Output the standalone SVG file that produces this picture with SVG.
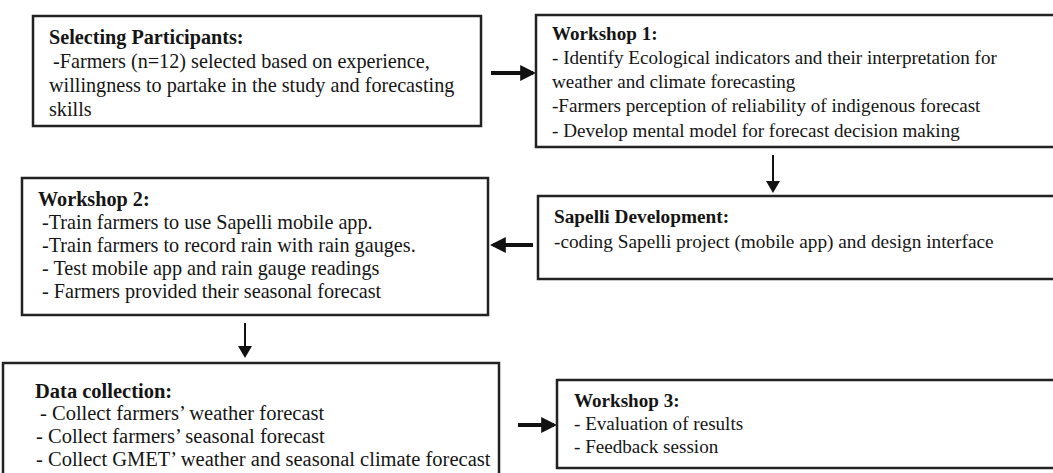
<svg xmlns="http://www.w3.org/2000/svg" width="1053" height="473" viewBox="0 0 1053 473">
<defs>
<marker id="ah" markerWidth="4" markerHeight="4" refX="3.2" refY="2" orient="auto" markerUnits="strokeWidth">
<path d="M0,0 L4,2 L0,4 Z" fill="#111"/>
</marker>
<marker id="ahs" markerWidth="6" markerHeight="7" refX="5" refY="3.5" orient="auto" markerUnits="strokeWidth">
<path d="M0,0 L6,3.5 L0,7 Z" fill="#111"/>
</marker>
<style>
.box{fill:#fff;stroke:#222;stroke-width:2.5}
.t{font-family:"Liberation Serif","Times New Roman",serif;font-size:18px;fill:#151515}
.b{font-weight:bold}
.s20{font-size:20.2px}
.s19{font-size:19.1px}
.s193{font-size:19.3px}
.s205{font-size:20.5px}
.thick{stroke:#111;stroke-width:4;fill:none;marker-end:url(#ah)}
.thin{stroke:#111;stroke-width:2;fill:none;marker-end:url(#ahs)}
</style>
</defs>
<rect width="1053" height="473" fill="#fff"/>
<g id="connectors">
<line class="thick" x1="491" y1="73" x2="533" y2="73"/>
<line class="thin" x1="773" y1="155" x2="773" y2="191"/>
<line class="thick" x1="533" y1="245" x2="493" y2="245"/>
<line class="thin" x1="245" y1="323" x2="245" y2="356"/>
<line class="thick" x1="518" y1="425" x2="554" y2="425"/>
</g>
<g id="selecting">
<rect class="box" x="33" y="16" width="448" height="110"/>
<text class="t s20 b" x="49" y="44">Selecting Participants:</text>
<text class="t s20" x="53" y="68">-Farmers (n=12) selected based on experience,</text>
<text class="t s20" x="49" y="92">willingness to partake in the study and forecasting</text>
<text class="t s20" x="49" y="116">skills</text>
</g>
<g id="workshop1">
<rect class="box" x="536" y="15" width="530" height="132"/>
<text class="t s19 b" x="552" y="40">Workshop 1:</text>
<text class="t s19" x="552" y="64">- Identify Ecological indicators and their interpretation for</text>
<text class="t s19" x="552" y="88">weather and climate forecasting</text>
<text class="t s19" x="552" y="112">-Farmers perception of reliability of indigenous forecast</text>
<text class="t s19" x="552" y="137">- Develop mental model for forecast decision making</text>
</g>
<g id="sapelli">
<rect class="box" x="538" y="196" width="530" height="83"/>
<text class="t s193 b" x="554" y="223">Sapelli Development:</text>
<text class="t s193" x="554" y="248">-coding Sapelli project (mobile app) and design interface</text>
</g>
<g id="workshop2">
<rect class="box" x="22" y="178" width="466" height="137"/>
<text class="t s20 b" x="38" y="206">Workshop 2:</text>
<text class="t s20" x="42" y="229">-Train farmers to use Sapelli mobile app.</text>
<text class="t s20" x="42" y="252">-Train farmers to record rain with rain gauges.</text>
<text class="t s20" x="42" y="275">- Test mobile app and rain gauge readings</text>
<text class="t s20" x="42" y="298">- Farmers provided their seasonal forecast</text>
</g>
<g id="datacollection">
<rect class="box" x="3" y="363" width="496" height="130"/>
<text class="t s205 b" x="35" y="398">Data collection:</text>
<text class="t s205" x="40" y="420">- Collect farmers’ weather forecast</text>
<text class="t s205" x="36" y="443">- Collect farmers’ seasonal forecast</text>
<text class="t s205" x="36" y="466">- Collect GMET’ weather and seasonal climate forecast</text>
</g>
<g id="workshop3">
<rect class="box" x="557" y="380" width="530" height="88"/>
<text class="t s19 b" x="574" y="407">Workshop 3:</text>
<text class="t s19" x="574" y="430">- Evaluation of results</text>
<text class="t s19" x="574" y="453">- Feedback session</text>
</g>
</svg>
